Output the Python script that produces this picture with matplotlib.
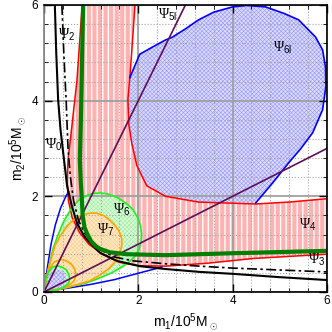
import matplotlib
matplotlib.use("Agg")
import matplotlib.pyplot as plt
from matplotlib.ticker import MultipleLocator

plt.rcParams['font.family'] = ['Liberation Sans', 'DejaVu Sans']
plt.rcParams['mathtext.fontset'] = 'custom'
plt.rcParams['mathtext.rm'] = 'Liberation Sans'
plt.rcParams['mathtext.it'] = 'Liberation Sans:italic'
plt.rcParams['hatch.linewidth'] = 0.4

# chirp-mass like curve (black solid)
bk_x = [0.23, 0.26, 0.30, 0.35, 0.40, 0.49, 0.59, 0.70, 0.85, 1.00, 1.19, 1.55, 2.03, 2.58, 3.30, 4.00, 5.00, 6.00]
bk_y = [6.00, 5.00, 4.02, 3.40, 2.97, 2.22, 1.80, 1.44, 1.17, 1.00, 0.82, 0.65, 0.54, 0.48, 0.42, 0.38, 0.31, 0.25]
# black dash-dot
bd_x = [0.38, 0.42, 0.47, 0.51, 0.56, 0.63, 0.73, 0.87, 1.04, 1.22, 1.50, 1.90, 2.58, 3.30, 4.00, 5.00, 6.00]
bd_y = [6.00, 5.00, 4.00, 3.00, 2.40, 1.90, 1.50, 1.22, 1.04, 0.87, 0.73, 0.65, 0.59, 0.54, 0.50, 0.46, 0.42]
# thick green
gt_x = [0.83, 0.81, 0.80, 0.78, 0.76, 0.78, 0.80, 0.82, 0.86, 0.91, 1.00, 1.10, 1.19, 1.40, 1.75, 2.58, 4.00, 6.00]
gt_y = [6.00, 5.00, 4.43, 3.50, 2.76, 2.30, 2.00, 1.60, 1.35, 1.23, 1.06, 0.96, 0.90, 0.83, 0.79, 0.77, 0.81, 0.86]
# red band (psi_2 / psi_4)
ro_x = [1.93, 1.86, 1.82, 1.78, 1.80, 1.86, 1.97, 2.18, 2.58, 3.28, 4.49, 5.20, 6.00]
ro_y = [6.00, 5.00, 4.48, 4.02, 3.50, 3.12, 2.64, 2.22, 2.00, 1.88, 1.84, 1.88, 1.95]
ri_x = [0.81, 0.70, 0.59, 0.51, 0.49, 0.52, 0.60, 0.75, 0.95, 1.25, 1.60, 2.00, 2.58, 3.45, 4.43, 6.00]
ri_y = [6.00, 4.43, 3.45, 2.76, 2.30, 1.90, 1.55, 1.25, 1.00, 0.78, 0.62, 0.55, 0.54, 0.60, 0.70, 0.79]
# blue psi_6l boundary (visible part)
bl_x = [1.82, 2.03, 2.30, 2.58, 2.71, 3.00, 3.28, 3.60, 4.00, 4.30, 4.70, 5.10, 5.40, 5.76, 5.91, 5.97, 5.98, 5.91, 5.70, 5.45, 5.19, 4.85, 4.49]
bl_y = [4.48, 4.97, 5.12, 5.27, 5.32, 5.50, 5.69, 5.85, 5.96, 5.99, 5.96, 5.82, 5.69, 5.33, 5.06, 4.71, 4.30, 3.81, 3.33, 3.00, 2.70, 2.28, 1.86]
# blue lines near the origin
bll_x = [0.00, 0.07, 0.15, 0.24, 0.35, 0.45, 0.52]
bll_y = [0.00, 0.50, 1.00, 1.40, 1.75, 1.97, 2.10]
blb_x = [0.00, 0.50, 1.00, 1.50, 2.03, 2.50]
blb_y = [0.00, 0.08, 0.16, 0.26, 0.40, 0.52]
# green psi_6 loop
g6_x = [0.00, 0.06, 0.12, 0.19, 0.28, 0.40, 0.52, 0.62, 0.75, 0.91, 1.05, 1.19, 1.35, 1.55, 1.75, 1.89, 1.99, 2.05, 2.07,
        2.06, 2.02, 1.93, 1.80, 1.65, 1.44, 1.15, 0.90, 0.60, 0.33, 0.00]
g6_y = [0.00, 0.33, 0.60, 0.90, 1.15, 1.44, 1.65, 1.80, 1.93, 2.02, 2.06, 2.07, 2.05, 1.98, 1.85, 1.72, 1.55, 1.38, 1.20,
        1.05, 0.90, 0.75, 0.62, 0.52, 0.40, 0.28, 0.19, 0.12, 0.06, 0.00]
# orange psi_7 loop
o7_x = [0.00, 0.09, 0.23, 0.35, 0.49, 0.62, 0.76, 0.97, 1.12, 1.28, 1.40, 1.50, 1.59, 1.65, 1.65, 1.59, 1.50, 1.38, 1.18, 0.96, 0.48, 0.00]
o7_y = [0.00, 0.48, 0.96, 1.18, 1.38, 1.50, 1.59, 1.65, 1.65, 1.59, 1.50, 1.40, 1.28, 1.12, 0.97, 0.76, 0.62, 0.49, 0.35, 0.23, 0.09, 0.00]
# small loops near the origin
os_x = [0.00, 0.05, 0.12, 0.22, 0.36, 0.48, 0.58, 0.65, 0.68, 0.63, 0.50, 0.30, 0.00]
os_y = [0.00, 0.30, 0.50, 0.63, 0.68, 0.65, 0.58, 0.48, 0.36, 0.22, 0.12, 0.05, 0.00]
gs_x = [0.00, 0.04, 0.10, 0.18, 0.28, 0.38, 0.47, 0.52, 0.55, 0.52, 0.42, 0.25, 0.00]
gs_y = [0.00, 0.25, 0.42, 0.52, 0.55, 0.52, 0.47, 0.38, 0.28, 0.18, 0.10, 0.04, 0.00]
bs_x = [0.00, 0.03, 0.08, 0.15, 0.25, 0.35, 0.42, 0.46, 0.47, 0.44, 0.35, 0.20, 0.00]
bs_y = [0.00, 0.20, 0.35, 0.44, 0.47, 0.46, 0.42, 0.35, 0.25, 0.15, 0.08, 0.03, 0.00]
# mass ratio lines q = 2 and q = 1/2
q2_x, q2_y = [0.0, 3.0], [0.0, 6.0]
qh_x, qh_y = [0.0, 6.0], [0.0, 3.0]

labels = [('Ψ$_0$', 0.02, 2.99), ('Ψ$_2$', 0.30, 5.29), ('Ψ$_{\\mathrm{5l}}$', 2.42, 5.71),
          ('Ψ$_{\\mathrm{6l}}$', 4.85, 5.02), ('Ψ$_4$', 5.40, 1.32), ('Ψ$_3$', 5.59, 0.59),
          ('Ψ$_6$', 1.46, 1.63), ('Ψ$_7$', 1.12, 1.23)]

fig = plt.figure(figsize=(3.32, 3.32), dpi=100)
ax = fig.add_axes([0.1325, 0.1205, 0.852, 0.8645])

blue_face, blue_hatch = '#dcdcfd', '#9898ff'
green_face, green_hatch = '#d8fcd8', '#a4eca4'
orange_face, orange_hatch = '#ffe9c8', '#ffcf8c'
dense = 'xxxxxxxx'

# blue psi_6l region: blue curve then back along the outer red curve
px = bl_x + ro_x[9:2:-1]
py = bl_y + ro_y[9:2:-1]
ax.fill(px, py, facecolor=blue_face, edgecolor=blue_hatch, hatch=dense, lw=0, zorder=1)

# red band
with plt.rc_context({'hatch.linewidth': 1.0}):
    ax.fill(ro_x + ri_x[::-1], ro_y + ri_y[::-1], facecolor='#ffb2b2', edgecolor='white',
            hatch='|||', lw=0, zorder=1.1)

# teardrops
ax.fill(g6_x, g6_y, facecolor=green_face, edgecolor=green_hatch, hatch=dense, lw=0, zorder=1.2)
ax.fill(o7_x, o7_y, facecolor=orange_face, edgecolor=orange_hatch, hatch=dense, lw=0, zorder=1.3)
ax.fill(gs_x, gs_y, facecolor=green_face, edgecolor=green_hatch, hatch=dense, lw=0, zorder=1.4)
ax.fill(bs_x, bs_y, facecolor=blue_face, edgecolor=blue_hatch, hatch=dense, lw=0, zorder=1.5)

ax.plot(ro_x, ro_y, color='red', lw=1.1, zorder=3)
ax.plot(ri_x, ri_y, color='red', lw=1.1, zorder=3)
ax.plot(bl_x, bl_y, color='blue', lw=1.2, zorder=3)
ax.plot(bll_x, bll_y, color='blue', lw=1.1, zorder=3)
ax.plot(blb_x, blb_y, color='blue', lw=1.1, zorder=3)
ax.plot(g6_x, g6_y, color='#22ee22', lw=1.2, zorder=3)
ax.plot(o7_x, o7_y, color='orange', lw=1.2, zorder=3)
ax.plot(os_x, os_y, color='orange', lw=1.2, zorder=3)
ax.plot(gs_x, gs_y, color='#22ee22', lw=1.2, zorder=3)
ax.plot(q2_x, q2_y, color='#5e0f58', lw=1.2, zorder=3.2)
ax.plot(qh_x, qh_y, color='#5e0f58', lw=1.2, zorder=3.2)
ax.plot(bd_x, bd_y, color='black', lw=1.2, dashes=(6, 2, 1.5, 2), zorder=3.4)
ax.plot(bk_x, bk_y, color='black', lw=1.5, zorder=3.4)
ax.plot(gt_x, gt_y, color='#008000', lw=3, zorder=3.5)

for txt, x, y in labels:
    ax.text(x, y, txt, fontsize=10, family='Liberation Serif', ha='left', va='baseline', zorder=5)

ax.set_xlim(0, 6)
ax.set_ylim(0, 6)
ax.xaxis.set_major_locator(MultipleLocator(2))
ax.yaxis.set_major_locator(MultipleLocator(2))
ax.xaxis.set_minor_locator(MultipleLocator(0.4))
ax.yaxis.set_minor_locator(MultipleLocator(0.4))
ax.set_axisbelow(False)
ax.grid(which='major', color='#a0a0a0', lw=1.3, ls='-')
ax.grid(which='minor', color='#a8a8a8', lw=0.8, ls=':')
ax.tick_params(which='both', direction='in', top=True, right=True, labelsize=8.5)
ax.tick_params(which='major', length=6, width=1)
ax.tick_params(which='minor', length=3, width=0.6)
ax.tick_params(axis='x', pad=2)
ax.tick_params(axis='y', pad=4)
for s in ax.spines.values():
    s.set_linewidth(1.2)
    s.set_zorder(6)
ax.spines['left'].set_color('#808080')

ax.set_xlabel('m$_1$/10$^5$M$_\\odot$', fontsize=10, labelpad=3)
ax.set_ylabel('m$_2$/10$^5$M$_\\odot$', fontsize=10, labelpad=2)

fig.savefig('out.png', dpi=100)
